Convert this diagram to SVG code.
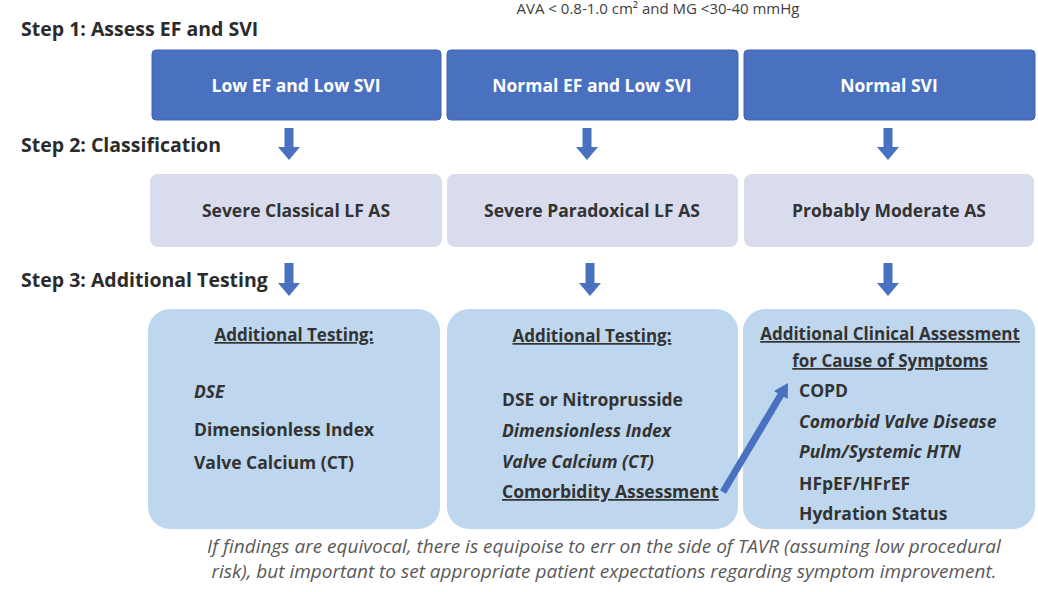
<svg xmlns="http://www.w3.org/2000/svg" width="1038" height="592" viewBox="0 0 1038 592">
<defs>
<style>
text{font-family:"Open Sans","Liberation Sans",sans-serif;fill:#2b2b2b;}
.step{font-size:19.5px;font-weight:bold;}
.top{fill:#4a70c0;stroke:#4165b0;stroke-width:1;}
.topt{fill:#ffffff;font-size:17.5px;font-weight:bold;text-anchor:middle;}
.mid{fill:#d9dcec;}
.midt{font-size:17.5px;font-weight:bold;text-anchor:middle;fill:#333333;}
.bot{fill:#bed7ee;}
.h{font-size:17px;font-weight:bold;text-anchor:middle;text-decoration:underline;fill:#333333;}
.i{font-size:17.5px;font-weight:bold;fill:#333333;}
.it{font-style:italic;}
.u{text-decoration:underline;}
.foot{font-size:19px;font-style:italic;fill:#595959;text-anchor:middle;}
.arr{fill:#4a70c0;}
</style>
</defs>
<rect width="1038" height="592" fill="#ffffff"/>
<text x="658" y="14" style="font-size:15px;text-anchor:middle;fill:#404040;">AVA &lt; 0.8-1.0 cm² and MG &lt;30-40 mmHg</text>
<g id="labels">
<text class="step" x="21" y="36">Step 1: Assess EF and SVI</text>
<text class="step" x="21" y="152">Step 2: Classification</text>
<text class="step" x="21" y="287">Step 3: Additional Testing</text>
</g>
<g id="n1"><rect class="top" x="152" y="50" width="289" height="70" rx="4"/><text class="topt" x="296" y="92">Low EF and Low SVI</text></g>
<g id="n2"><rect class="top" x="447" y="50" width="291" height="70" rx="4"/><text class="topt" x="592" y="92">Normal EF and Low SVI</text></g>
<g id="n3"><rect class="top" x="744" y="50" width="291" height="70" rx="4"/><text class="topt" x="889" y="92">Normal SVI</text></g>
<g id="n4"><rect class="mid" x="150" y="174" width="292" height="73" rx="8"/><text class="midt" x="296" y="217">Severe Classical LF AS</text></g>
<g id="n5"><rect class="mid" x="447" y="174" width="291" height="73" rx="8"/><text class="midt" x="592" y="217">Severe Paradoxical LF AS</text></g>
<g id="n6"><rect class="mid" x="744" y="174" width="290" height="73" rx="8"/><text class="midt" x="889" y="217">Probably Moderate AS</text></g>
<g id="n7"><rect class="bot" x="148" y="309" width="292" height="220" rx="22"/>
<text class="h" x="294" y="341">Additional Testing:</text>
<text class="i it" x="194" y="398">DSE</text>
<text class="i" x="194" y="436">Dimensionless Index</text>
<text class="i" x="194" y="469">Valve Calcium (CT)</text>
</g>
<g id="n8"><rect class="bot" x="447" y="309" width="291" height="220" rx="22"/>
<text class="h" x="592" y="342">Additional Testing:</text>
<text class="i" x="502" y="406">DSE or Nitroprusside</text>
<text class="i it" x="502" y="437">Dimensionless Index</text>
<text class="i it" x="502" y="468">Valve Calcium (CT)</text>
<text class="i u" x="502" y="498">Comorbidity Assessment</text>
</g>
<g id="n9"><rect class="bot" x="743" y="309" width="292" height="220" rx="22"/>
<text class="h" x="890" y="340">Additional Clinical Assessment</text>
<text class="h" x="890" y="367">for Cause of Symptoms</text>
<text class="i" x="799" y="397">COPD</text>
<text class="i it" x="799" y="428">Comorbid Valve Disease</text>
<text class="i it" x="799" y="458">Pulm/Systemic HTN</text>
<text class="i" x="799" y="490">HFpEF/HFrEF</text>
<text class="i" x="799" y="520">Hydration Status</text>
</g>
<g id="connectors">
<path class="arr" d="M284.5,128 h9 v19 h6.5 l-11,13 l-11,-13 h6.5 z"/>
<path class="arr" d="M582.5,128 h9 v19 h6.5 l-11,13 l-11,-13 h6.5 z"/>
<path class="arr" d="M883.5,128 h9 v19 h6.5 l-11,13 l-11,-13 h6.5 z"/>
<path class="arr" d="M284.5,263 h9 v20 h6.5 l-11,13 l-11,-13 h6.5 z"/>
<path class="arr" d="M585.5,263 h9 v20 h6.5 l-11,13 l-11,-13 h6.5 z"/>
<path class="arr" d="M883.5,263 h9 v20 h6.5 l-11,13 l-11,-13 h6.5 z"/>
<polygon class="arr" points="726,493.8 783.8,396.8 787.7,399.1 788,383 773.9,390.9 777.8,393.2 720,490.2"/>
</g>
<g id="footer">
<text class="foot" x="604" y="553">If findings are equivocal, there is equipoise to err on the side of TAVR (assuming low procedural</text>
<text class="foot" x="604" y="578">risk), but important to set appropriate patient expectations regarding symptom improvement.</text>
</g>
</svg>
